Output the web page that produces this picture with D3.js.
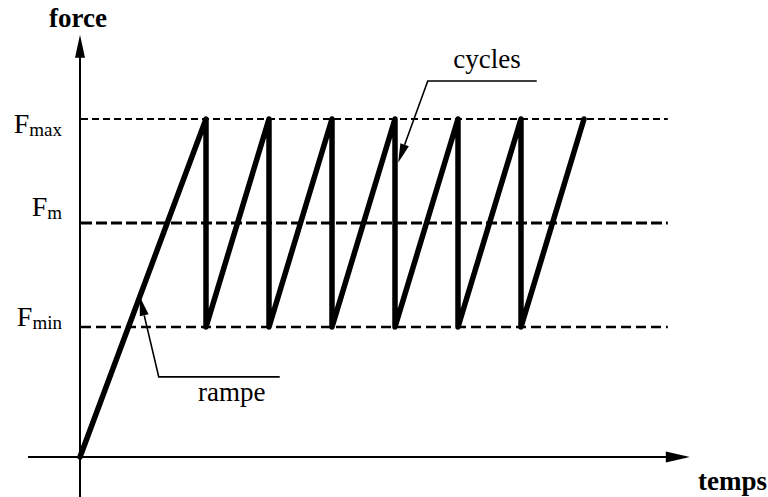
<!DOCTYPE html>
<html><head><meta charset="utf-8">
<script src="https://cdn.jsdelivr.net/npm/d3@7"></script>
<style>
html,body{margin:0;padding:0;background:#fff;}
svg{display:block;}
svg text{font-family:"Liberation Serif","DejaVu Serif",serif;}
</style></head>
<body>
<svg id="chart" width="768" height="497"></svg>
<script>
// ---- data ----
const levelNames = ["max", "m", "min"];          // subscripts of F
const levelValues = [3.25, 2.25, 1.25];           // Fmax, Fm, Fmin (force units)
const signalTime  = [0, 2, 2, 3, 3, 4, 4, 5, 5, 6, 6, 7, 7, 8];
const signalForce = [0, 3.25, 1.25, 3.25, 1.25, 3.25, 1.25, 3.25, 1.25, 3.25, 1.25, 3.25, 1.25, 3.25];
const axisTitles = ["force", "temps"];
const annotationTexts = ["cycles", "rampe"];
// annotation anchor points in data space: [tip, elbow, end] as [time, force]
const cyclesPath = [[5.05, 2.83], [5.52, 3.615], [7.25, 3.615]];
const rampePath  = [[0.95, 1.54], [1.25, 0.77], [3.17, 0.77]];
const cyclesLabel = [6.46, 3.74];
const rampeLabel  = [2.41, 0.54];

// ---- layout ----
const svg = d3.select("#chart");
const x = d3.scaleLinear().domain([0, 10]).range([80, 710]);
const y = d3.scaleLinear().domain([0, 4]).range([457, 41]);
const tMin = -0.825, tMax = 9.68, tDashEnd = 9.33;
const fTop = 4.06, fBottom = -0.4;

// dashed level lines
const dashStyles = [
  {w: 2, dash: "7,4"},
  {w: 2.8, dash: "11,4"},
  {w: 2.5, dash: "10,5"}
];
svg.selectAll("line.level").data(levelValues).join("line")
  .attr("class", "level")
  .attr("x1", x(0) + 1).attr("x2", x(tDashEnd))
  .attr("y1", d => y(d)).attr("y2", d => y(d))
  .attr("stroke", "#000")
  .attr("stroke-width", (d, i) => dashStyles[i].w)
  .attr("stroke-dasharray", (d, i) => dashStyles[i].dash);

// level labels
const labelDy = [14, -7, -1];
const lbl = svg.selectAll("text.level").data(levelValues).join("text")
  .attr("class", "level")
  .attr("x", 62)
  .attr("y", (d, i) => y(d) + labelDy[i])
  .attr("text-anchor", "end")
  .attr("font-size", 28);
lbl.append("tspan").text("F");
lbl.append("tspan").attr("dy", 3).attr("font-size", 19).text((d, i) => levelNames[i]);

// axes
svg.append("line")
  .attr("x1", x(tMin)).attr("x2", x(tMax) - 20)
  .attr("y1", y(0)).attr("y2", y(0))
  .attr("stroke", "#000").attr("stroke-width", 2);
svg.append("line")
  .attr("x1", x(0)).attr("x2", x(0))
  .attr("y1", y(fBottom)).attr("y2", y(fTop) + 20)
  .attr("stroke", "#000").attr("stroke-width", 2);
// arrowheads
const ax = x(tMax), ay = y(0);
svg.append("path")
  .attr("d", `M${ax},${ay} L${ax - 24},${ay - 5.5} L${ax - 24},${ay + 5.5} Z`)
  .attr("fill", "#000");
const vx = x(0), vy = y(fTop);
svg.append("path")
  .attr("d", `M${vx},${vy} L${vx - 5},${vy + 23} L${vx + 5},${vy + 23} Z`)
  .attr("fill", "#000");

// axis titles
svg.append("text").attr("x", 78).attr("y", 27).attr("text-anchor", "middle")
  .attr("font-size", 27).attr("font-weight", "bold").text(axisTitles[0]);
svg.append("text").attr("x", 767).attr("y", 490).attr("text-anchor", "end")
  .attr("font-size", 27).attr("font-weight", "bold").text(axisTitles[1]);

// signal
const pts = signalTime.map((t, i) => [t, signalForce[i]]);
svg.append("path")
  .datum(pts)
  .attr("d", d3.line().x(d => x(d[0])).y(d => y(d[1])))
  .attr("fill", "none").attr("stroke", "#000")
  .attr("stroke-width", 5.5).attr("stroke-linejoin", "round").attr("stroke-linecap", "round");

// annotations
function annot(path, labelPos, text) {
  const p = path.map(d => [x(d[0]), y(d[1])]);
  const tip = p[0], el = p[1];
  const ang = Math.atan2(tip[1] - el[1], tip[0] - el[0]);
  const L = 19, H = 4.5;
  const bx = tip[0] - L * Math.cos(ang), by = tip[1] - L * Math.sin(ang);
  svg.append("path")
    .attr("d", d3.line()([[bx, by], el, p[2]]))
    .attr("fill", "none").attr("stroke", "#000").attr("stroke-width", 1.6);
  svg.append("path")
    .attr("d", `M${tip[0]},${tip[1]} L${bx - H * Math.sin(ang)},${by + H * Math.cos(ang)} L${bx + H * Math.sin(ang)},${by - H * Math.cos(ang)} Z`)
    .attr("fill", "#000");
  svg.append("text").attr("x", x(labelPos[0])).attr("y", y(labelPos[1]))
    .attr("text-anchor", "middle").attr("font-size", 27).text(text);
}
annot(cyclesPath, cyclesLabel, annotationTexts[0]);
annot(rampePath, rampeLabel, annotationTexts[1]);
</script>
</body></html>
